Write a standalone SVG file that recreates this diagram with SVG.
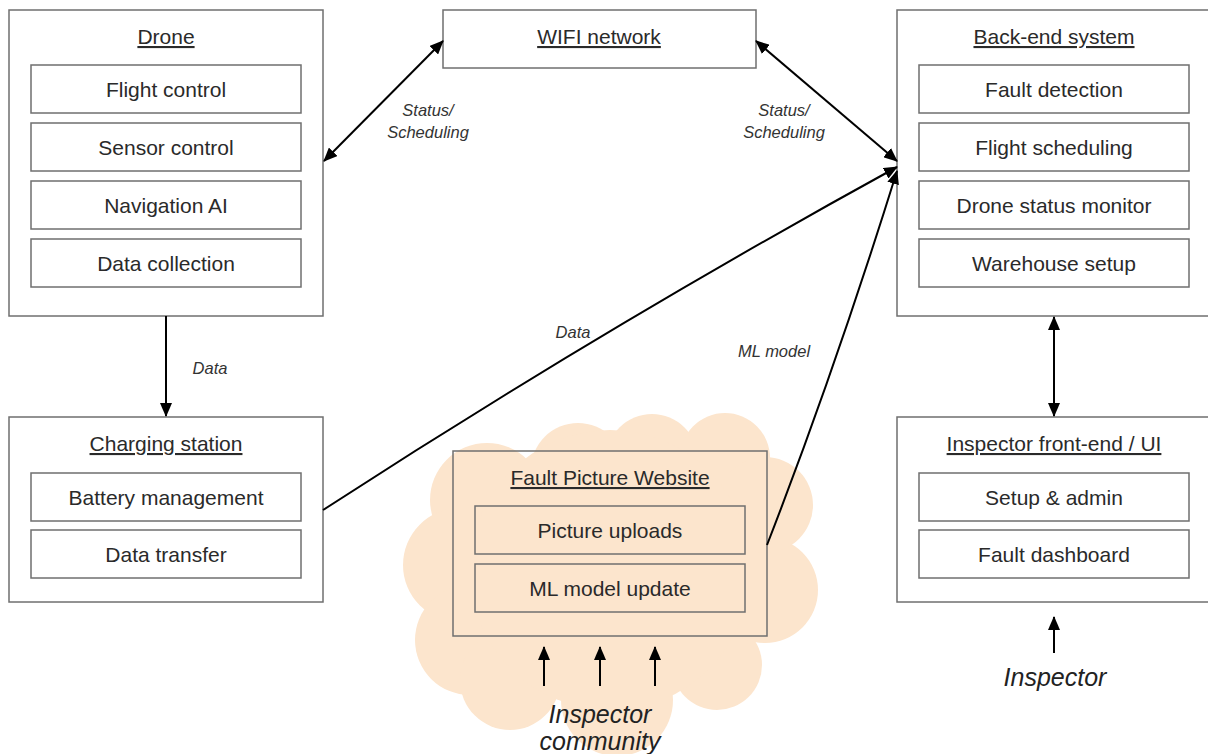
<svg xmlns="http://www.w3.org/2000/svg" width="1208" height="754" viewBox="0 0 1208 754">
<style>
.box{fill:none;stroke:#6f6f6f;stroke-width:1.5}
.t{font-family:"Liberation Sans",Arial,sans-serif;font-size:21px;fill:#2a2a2a;text-anchor:middle}
.u{text-decoration:underline}
.lbl{font-family:"Liberation Sans",Arial,sans-serif;font-size:16.5px;font-style:italic;fill:#333;text-anchor:middle}
.big{font-family:"Liberation Sans",Arial,sans-serif;font-size:25px;font-style:italic;fill:#222;text-anchor:middle}
.ln{fill:none;stroke:#000;stroke-width:2}
.cloud{fill:#fce5cd}
</style>
<defs>
<marker id="ah" viewBox="0 0 14 12" refX="13" refY="6" markerWidth="14" markerHeight="12" markerUnits="userSpaceOnUse" orient="auto-start-reverse">
<path d="M0,0 L14,6 L0,12 z" fill="#000"/>
</marker>
</defs>
<rect width="1208" height="754" fill="#fff"/>
<g id="cloud" class="cloud">
<circle cx="578" cy="470" r="47"/>
<circle cx="652" cy="460" r="46"/>
<circle cx="725" cy="458" r="45"/>
<circle cx="487" cy="500" r="57"/>
<circle cx="460" cy="565" r="57"/>
<circle cx="470" cy="640" r="55"/>
<circle cx="510" cy="680" r="50"/>
<circle cx="617" cy="700" r="56"/>
<circle cx="717" cy="665" r="45"/>
<circle cx="765" cy="590" r="53"/>
<circle cx="765" cy="505" r="48"/>
<circle cx="610" cy="570" r="140"/>
</g>
<g id="drone">
<rect class="box" x="9" y="10" width="314" height="306"/>
<text class="t u" x="166" y="44">Drone</text>
<rect class="box" x="31" y="65" width="270" height="48"/>
<text class="t" x="166" y="96.5">Flight control</text>
<rect class="box" x="31" y="123" width="270" height="48"/>
<text class="t" x="166" y="154.5">Sensor control</text>
<rect class="box" x="31" y="181" width="270" height="48"/>
<text class="t" x="166" y="212.5">Navigation AI</text>
<rect class="box" x="31" y="239" width="270" height="48"/>
<text class="t" x="166" y="270.5">Data collection</text>
</g>
<g id="wifi">
<rect class="box" x="443" y="10" width="313" height="58"/>
<text class="t u" x="599" y="44">WIFI network</text>
</g>
<g id="backend">
<rect class="box" x="897" y="10" width="314" height="306"/>
<text class="t u" x="1054" y="44">Back-end system</text>
<rect class="box" x="919" y="65" width="270" height="48"/>
<text class="t" x="1054" y="96.5">Fault detection</text>
<rect class="box" x="919" y="123" width="270" height="48"/>
<text class="t" x="1054" y="154.5">Flight scheduling</text>
<rect class="box" x="919" y="181" width="270" height="48"/>
<text class="t" x="1054" y="212.5">Drone status monitor</text>
<rect class="box" x="919" y="239" width="270" height="48"/>
<text class="t" x="1054" y="270.5">Warehouse setup</text>
</g>
<g id="charging">
<rect class="box" x="9" y="417" width="314" height="185"/>
<text class="t u" x="166" y="451">Charging station</text>
<rect class="box" x="31" y="473" width="270" height="48"/>
<text class="t" x="166" y="504.5">Battery management</text>
<rect class="box" x="31" y="530" width="270" height="48"/>
<text class="t" x="166" y="561.5">Data transfer</text>
</g>
<g id="frontend">
<rect class="box" x="897" y="417" width="314" height="185"/>
<text class="t u" x="1054" y="451">Inspector front-end / UI</text>
<rect class="box" x="919" y="473" width="270" height="48"/>
<text class="t" x="1054" y="504.5">Setup &amp; admin</text>
<rect class="box" x="919" y="530" width="270" height="48"/>
<text class="t" x="1054" y="561.5">Fault dashboard</text>
</g>
<g id="website">
<rect class="box" x="453" y="451" width="314" height="185"/>
<text class="t u" x="610" y="485">Fault Picture Website</text>
<rect class="box" x="475" y="506" width="270" height="48"/>
<text class="t" x="610" y="537.5">Picture uploads</text>
<rect class="box" x="475" y="564" width="270" height="48"/>
<text class="t" x="610" y="595.5">ML model update</text>
</g>
<g id="connectors">
<line class="ln" x1="443" y1="41" x2="324" y2="161" marker-start="url(#ah)" marker-end="url(#ah)"/>
<line class="ln" x1="756" y1="41" x2="897" y2="161" marker-start="url(#ah)" marker-end="url(#ah)"/>
<line class="ln" x1="166" y1="316" x2="166" y2="416" marker-end="url(#ah)"/>
<path class="ln" d="M323,510 Q600,330 897,167" marker-end="url(#ah)"/>
<path class="ln" d="M767,545 Q835,370 897,171" marker-end="url(#ah)"/>
<line class="ln" x1="1054" y1="317" x2="1054" y2="416" marker-start="url(#ah)" marker-end="url(#ah)"/>
<line class="ln" x1="1054" y1="653" x2="1054" y2="617" marker-end="url(#ah)"/>
<line class="ln" x1="544" y1="686" x2="544" y2="647" marker-end="url(#ah)"/>
<line class="ln" x1="600" y1="686" x2="600" y2="647" marker-end="url(#ah)"/>
<line class="ln" x1="655" y1="686" x2="655" y2="647" marker-end="url(#ah)"/>
</g>
<g id="labels">
<text class="lbl" x="428" y="116">Status/</text>
<text class="lbl" x="428" y="138">Scheduling</text>
<text class="lbl" x="784" y="116">Status/</text>
<text class="lbl" x="784" y="138">Scheduling</text>
<text class="lbl" x="210" y="374">Data</text>
<text class="lbl" x="573" y="338">Data</text>
<text class="lbl" x="774" y="357">ML model</text>
<text class="big" x="1055" y="686">Inspector</text>
<text class="big" x="600" y="723">Inspector</text>
<text class="big" x="600" y="750">community</text>
</g>
</svg>
